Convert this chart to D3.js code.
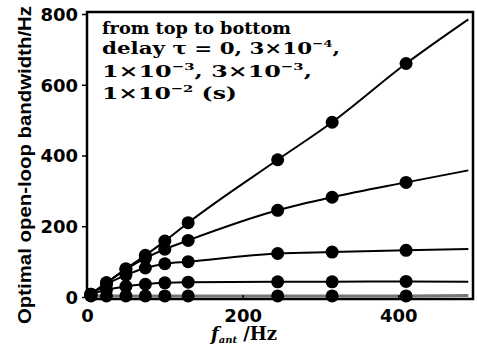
<!DOCTYPE html>
<html>
<head>
<meta charset="utf-8">
<script src="https://cdn.jsdelivr.net/npm/d3@7"></script>
<style>
  body { margin: 0; background: #fff; }
  svg { display: block; }
</style>
</head>
<body>
<div id="chart"></div>
<script>
// sample frequencies (Hz) where the markers sit
const fantHz = [5, 25, 50, 75, 100, 130, 245, 315, 410];

// optimal open-loop bandwidth (Hz), one array per delay, top to bottom
const bwTau0    = [8, 40, 80, 118, 158, 210, 388, 494, 660];
const bwTau3e4  = [8, 40, 78, 110, 135, 160, 245, 282, 324];
const bwTau1e3  = [7, 36, 62, 82, 94, 100, 123, 127, 132];
const bwTau3e3  = [6, 20, 30, 36, 40, 42, 43, 43, 44];
const bwTau1e2  = [3, 3, 3, 3, 3, 3, 3, 3, 3];

// where each fitted curve ends on the right
const curveEndHz = 490;
const curveEndBw = [785, 358, 136, 43, 4];

const xTicks = [0, 200, 400];
const yTicks = [0, 200, 400, 600, 800];

const series = [bwTau0, bwTau3e4, bwTau1e3, bwTau3e3, bwTau1e2];

const width = 477;
const height = 348;
const plot = { left: 87, right: 473, top: 13, bottom: 297 };

const svg = d3.select('#chart')
  .append('svg')
    .attr('width', width)
    .attr('height', height);

const x = d3.scaleLinear()
  .domain([0, 496])
  .range([plot.left, plot.right]);

const y = d3.scaleLinear()
  .domain([0, 800])
  .range([plot.bottom, plot.top + 1]);

const line = d3.line()
  .x(d => x(d[0]))
  .y(d => y(d[1]))
  .curve(d3.curveMonotoneX);

// curves
series.forEach((vals, i) => {
  const pts = [[0, 0]].concat(fantHz.map((f, j) => [f, vals[j]]), [[curveEndHz, curveEndBw[i]]]);
  svg.append('path')
    .datum(pts)
    .attr('fill', 'none')
    .attr('stroke', i === 4 ? '#777' : '#000')
    .attr('stroke-width', i === 4 ? 3 : 2)
    .attr('d', line);
});

// markers
series.forEach(vals => {
  svg.append('g')
    .selectAll('circle')
    .data(fantHz.map((f, j) => [f, vals[j]]))
    .enter()
    .append('circle')
      .attr('cx', d => x(d[0]))
      .attr('cy', d => y(d[1]))
      .attr('r', 6.5)
      .attr('fill', '#000');
});

// frame
svg.append('rect')
  .attr('x', plot.left)
  .attr('y', plot.top - 1)
  .attr('width', plot.right - plot.left)
  .attr('height', plot.bottom + 2 - plot.top + 1)
  .attr('fill', 'none')
  .attr('stroke', '#000')
  .attr('stroke-width', 2.5);

// y axis, ticks pointing out
const yAxis = d3.axisLeft(y)
  .tickValues(yTicks)
  .tickSize(5)
  .tickPadding(4)
  .tickFormat(d3.format('d'));

svg.append('g')
  .attr('transform', 'translate(' + plot.left + ',0)')
  .call(yAxis)
  .call(g => g.select('.domain').remove())
  .call(g => g.selectAll('line').attr('stroke-width', 1.5))
  .selectAll('text')
    .attr('font-family', 'DejaVu Sans')
    .attr('font-weight', 'bold')
    .attr('font-size', 18)
    .attr('fill', '#000')
    .attr('dy', '0.36em');

// x axis, ticks pointing in
const xAxis = d3.axisBottom(x)
  .tickValues(xTicks)
  .tickSize(-4)
  .tickPadding(10)
  .tickFormat(d3.format('d'));

svg.append('g')
  .attr('transform', 'translate(0,' + (plot.bottom + 2) + ')')
  .call(xAxis)
  .call(g => g.select('.domain').remove())
  .call(g => g.selectAll('line').attr('stroke-width', 1.5))
  .selectAll('text')
    .attr('font-family', 'DejaVu Sans')
    .attr('font-weight', 'bold')
    .attr('font-size', 18)
    .attr('fill', '#000');

// axis titles
svg.append('text')
  .attr('transform', 'translate(31,165) rotate(-90)')
  .attr('text-anchor', 'middle')
  .attr('font-family', 'Liberation Sans')
  .attr('font-weight', 'bold')
  .attr('font-size', 19)
  .attr('textLength', 318)
  .attr('lengthAdjust', 'spacingAndGlyphs')
  .text('Optimal open-loop bandwidth/Hz');

const xTitle = svg.append('text')
  .attr('x', 211)
  .attr('y', 340)
  .attr('font-family', 'DejaVu Serif')
  .attr('font-weight', 'bold')
  .attr('font-size', 18)
  .style('white-space', 'pre');
xTitle.append('tspan').attr('font-style', 'italic').text('f');
xTitle.append('tspan').attr('font-style', 'italic').attr('font-size', 10).attr('dy', 3).text('ant');
xTitle.append('tspan').attr('dy', -3).attr('dx', 6).text('/Hz');

// legend note, segments are [text, superscript?]
const noteRows = [
  [['from top to bottom', false]],
  [['delay \u03c4 = 0, 3\u00d710', false], ['\u22124', true], [',', false]],
  [['1\u00d710', false], ['\u22123', true], [', 3\u00d710', false], ['\u22123', true], [',', false]],
  [['1\u00d710', false], ['\u22122', true], [' (s)', false]]
];
const noteBase = [34, 54, 77, 99];
const noteLen = [189, 238, 210, 135];

noteRows.forEach((row, i) => {
  const t = svg.append('text')
    .attr('x', 102)
    .attr('y', noteBase[i])
    .attr('font-family', 'DejaVu Serif')
    .attr('font-weight', 'bold')
    .attr('font-size', 16)
    .attr('textLength', noteLen[i])
    .attr('lengthAdjust', 'spacingAndGlyphs');
  let up = false;
  row.forEach(seg => {
    const s = t.append('tspan').text(seg[0]);
    if (seg[1] && !up) { s.attr('font-size', 10).attr('dy', -7); up = true; }
    else if (!seg[1] && up) { s.attr('dy', 7); up = false; }
  });
});
</script>
</body>
</html>
